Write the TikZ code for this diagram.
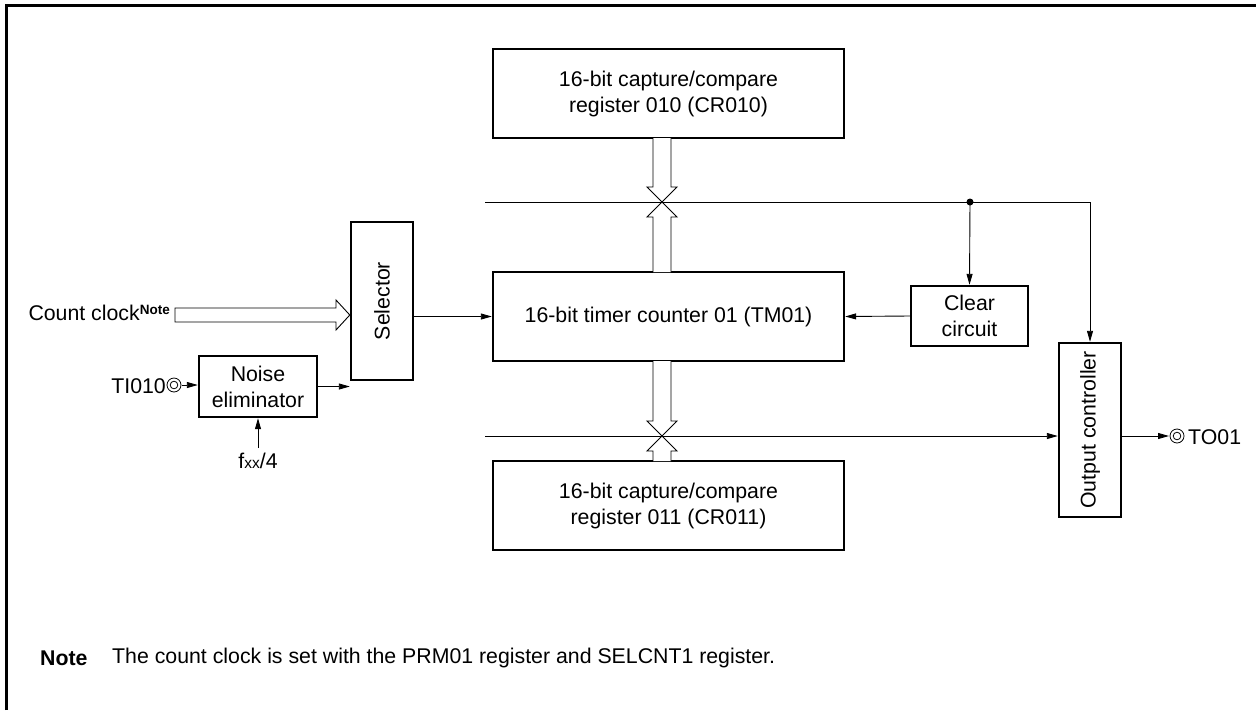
\documentclass[tikz,border=0pt]{standalone}
\usepackage{fontspec}
\setmainfont{Liberation Sans}
\usetikzlibrary{arrows.meta,calc}
\begin{document}
\begin{tikzpicture}[x=1pt,y=-1pt,
  font=\fontsize{21.3}{26}\selectfont,
  blk/.style={draw, line width=2.4pt, inner sep=0pt, align=center},
  wire/.style={line width=0.9pt},
  arr/.style={wire, -{Triangle[length=11pt,width=6pt]}},
  bus/.style={line width=0.9pt, fill=white},
  lbl/.style={inner sep=0pt, align=center}]
\useasboundingbox (0,0) rectangle (1256,710);
\draw[line width=3pt] (6,710) -- (6,5.5) -- (1256,5.5);

% blocks
\node[blk, minimum width=351pt, minimum height=89pt] (cr010) at (668.5,93.5) {16-bit capture/compare\\register 010 (CR010)};
\node[blk, minimum width=351pt, minimum height=89pt] (tm01) at (668.5,316.5) {16-bit timer counter 01 (TM01)};
\node[blk, minimum width=351pt, minimum height=89pt] (cr011) at (668.5,505.5) {16-bit capture/compare\\register 011 (CR011)};
\node[blk, minimum width=62pt, minimum height=158pt] (sel) at (382,301) {};
\node[lbl, rotate=90] at (sel) {Selector};
\node[blk, minimum width=118pt, minimum height=61pt] (noise) at (258,386.5) {Noise\\eliminator};
\node[blk, minimum width=117pt, minimum height=60pt] (clear) at (969.5,316) {Clear\\circuit};
\node[blk, minimum width=62pt, minimum height=174pt] (outc) at (1090,430) {};
\node[lbl, rotate=90] at (outc) {Output controller};

% buses
\coordinate (xt) at (662,202);
\coordinate (xb) at (662,436);
\coordinate (lt) at (485,202);
\coordinate (lb) at (485,436);
\coordinate (dot) at (970,202);
\coordinate (rt) at (outc.north |- xt);

\draw[bus] (653,138) -- (653,187) -- (647,187) -- (xt) -- (677,187) -- (671,187) -- (671,138);
\draw[bus] (653,272) -- (653,217) -- (647,217) -- (xt) -- (677,217) -- (671,217) -- (671,272);
\draw[bus] (653,361) -- (653,421) -- (647,421) -- (xb) -- (677,421) -- (671,421) -- (671,361);
\draw[bus] (653,461) -- (653,451) -- (647,451) -- (xb) -- (677,451) -- (671,451) -- (671,461);

% control lines
\draw[wire] (lt) -- (rt);
\draw[arr] (rt) -- (outc.north);
\fill (dot) circle (3.5pt);
\draw[arr] (dot) -- (clear.north);
\draw[arr] (lb) -- (lb -| outc.west);
\draw[arr] (clear.west) -- (tm01.east);
\draw[arr] (sel.east |- tm01.west) -- (tm01.west);
\draw[arr] (noise.east) -- (noise.east -| sel.west);

% count clock
\node[lbl, anchor=east] (cc) at (170,313) {Count clock\raisebox{0.55ex}{\fontsize{13.5}{15}\selectfont\bfseries Note}};
\coordinate (cctip) at (sel.west |- 0,315);
\draw[bus] (175,308) -- (336,308) -- (336,300) -- (cctip) -- (336,330) -- (336,322) -- (175,322) -- cycle;

% TI010
\node[lbl, anchor=east] (ti) at (166,386) {TI010};
\coordinate (tic) at (174,385);
\draw[line width=0.8pt] (tic) circle (7pt) (tic) circle (3.8pt);
\draw[arr] (182,385) -- (noise.west |- tic);

% fxx/4
\node[lbl, anchor=north] (fxx) at (258,453) {f{\fontsize{15.5}{17}\selectfont xx}/4};
\draw[arr] (fxx.north) ++(0,-5) -- (noise.south);

% TO01
\coordinate (toc) at (1177,436);
\draw[arr] (outc.east |- toc) -- (1169,436);
\draw[line width=0.8pt] (toc) circle (7pt) (toc) circle (3.8pt);
\node[lbl, anchor=west] (to) at (1188,437) {TO01};

% note
\node[lbl, anchor=west] (note) at (40,658) {\textbf{Note}};
\node[lbl, anchor=west] (notetxt) at (112,658) {The count clock is set with the PRM01 register and SELCNT1 register.};
\end{tikzpicture}
\end{document}
